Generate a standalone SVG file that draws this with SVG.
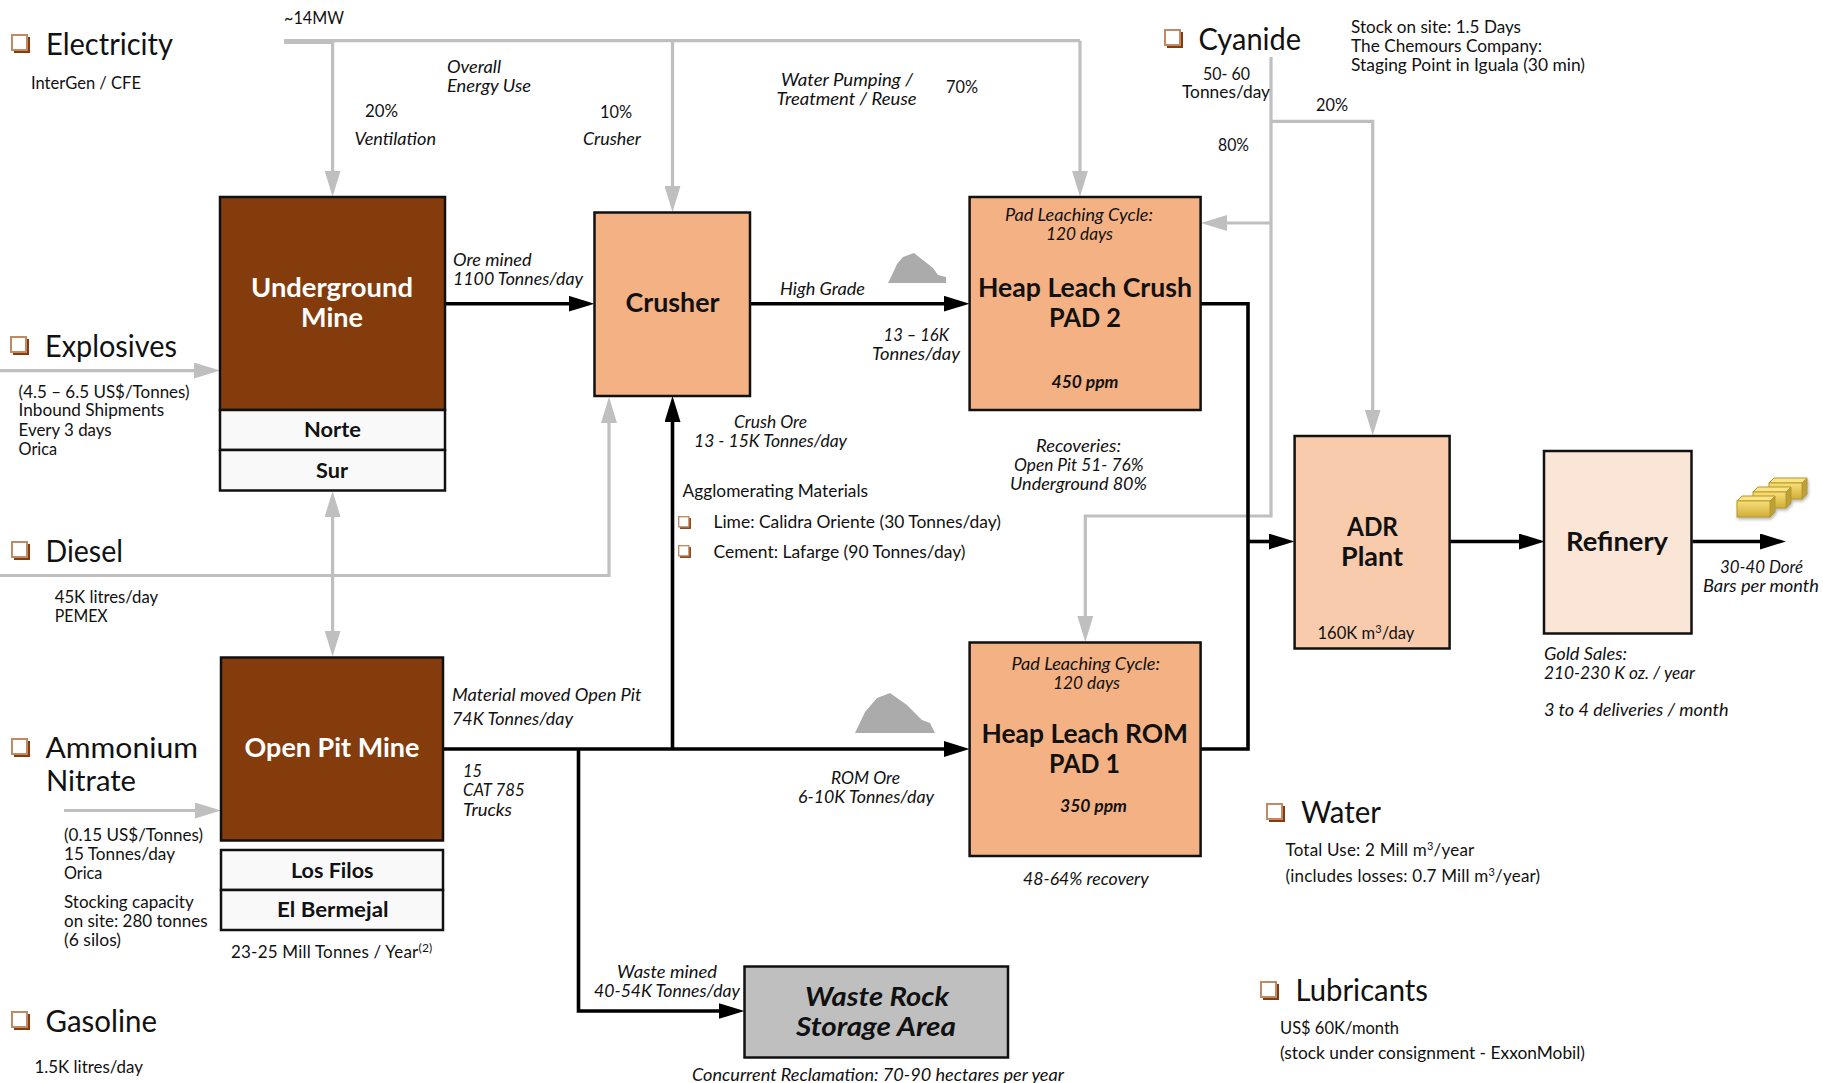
<svg xmlns="http://www.w3.org/2000/svg" width="1823" height="1083" viewBox="0 0 1823 1083">
<style>
text{font-family:"Lato","Liberation Sans",sans-serif;fill:#111;transform:translateY(.8px)}
.s{font-size:16.5px}
.i{font-size:16.5px;font-style:italic}
.t{font-size:30px}
.b{font-size:27px;font-weight:700}
.w{fill:#fff}
.sb{font-size:21.5px;font-weight:700}
.bi{font-size:16.5px;font-weight:700;font-style:italic}
.wr{font-size:26.5px;font-weight:700;font-style:italic}
.box{stroke:#111;stroke-width:2.5}
.g{fill:none;stroke:#bfbfbf;stroke-width:3.2;marker-end:url(#ga)}
.gn{fill:none;stroke:#bfbfbf;stroke-width:3.2}
.k{fill:none;stroke:#000;stroke-width:3.6;marker-end:url(#ka)}
.kn{fill:none;stroke:#000;stroke-width:3.6}
</style>
<defs>
<marker id="ga" markerUnits="userSpaceOnUse" markerWidth="26" markerHeight="16" viewBox="0 0 26 16" refX="11" refY="8" orient="auto"><path d="M0 0L26 8L0 16Z" fill="#bfbfbf"/></marker>
<marker id="ka" markerUnits="userSpaceOnUse" markerWidth="26" markerHeight="16" viewBox="0 0 26 16" refX="11" refY="8" orient="auto"><path d="M0 0L26 8L0 16Z" fill="#000"/></marker>
<g id="bul"><rect x="3" y="3" width="16" height="16" fill="#843c0c"/><rect x="1" y="1" width="15" height="15" fill="#fff" stroke="#c08a64" stroke-width="2"/></g>
<linearGradient id="gold" x1="0" y1="0" x2="0" y2="1"><stop offset="0" stop-color="#f9df7b"/><stop offset="1" stop-color="#cfae37"/></linearGradient>
<g id="bar"><path d="M0 5L5 0H38L33 5Z" fill="#fbe388" stroke="#b89a24"/><path d="M33 5L38 0V16L33 21Z" fill="#bda03a" stroke="#b89a24"/><rect y="5" width="33" height="16" fill="url(#gold)" stroke="#b89a24"/></g>
<filter id="shadow" x="-10%" y="-10%" width="130%" height="130%"><feDropShadow dx="1" dy="2" stdDeviation="1.5" flood-color="#888" flood-opacity=".6"/></filter>
<filter id="soft"><feGaussianBlur stdDeviation=".5"/></filter>
</defs>

<g id="connectors">
<path class="gn" d="M284 40.7H1080"/>
<path class="gn" style="stroke-width:5" d="M284 41.5H333"/>
<path class="g" d="M1080 40.7V181.7"/>
<path class="g" d="M332.6 41V181.7"/>
<path class="g" d="M672.5 41V197"/>
<path class="g" d="M0 370.6H205"/>
<path class="g" d="M0 575.5H609V412"/>
<path class="g" d="M332.6 575V506"/>
<path class="g" d="M332.6 575V641.6"/>
<path class="g" d="M64 810.5H206"/>
<path class="g" d="M1271 57V516H1085.3V627"/>
<path class="g" d="M1271 121.4H1372.7V420.5"/>
<path class="g" d="M1271 223H1216"/>
<path class="k" d="M445 303.7H579.5"/>
<path class="k" d="M750 303.7H954.6"/>
<path class="k" d="M672.5 749V411"/>
<path class="k" d="M443 749H954.6"/>
<path class="k" d="M578.5 749V1011H729.5"/>
<path class="kn" d="M1201 303.7H1248V749H1201"/>
<path class="k" d="M1248 541.5H1279.6"/>
<path class="k" d="M1450 541.5H1529.8"/>
<path class="k" d="M1692.5 541.5H1771"/>
</g>

<g id="electricity"><use href="#bul" x="11" y="34"/>
<text class="t" x="46" y="54.5" textLength="127" lengthAdjust="spacingAndGlyphs">Electricity</text>
<text class="s" x="31" y="88" textLength="110" lengthAdjust="spacingAndGlyphs">InterGen / CFE</text>
<text class="s" x="284" y="23" textLength="60" lengthAdjust="spacingAndGlyphs">~14MW</text>
<text class="i" x="447" y="72.5" textLength="54" lengthAdjust="spacingAndGlyphs">Overall</text>
<text class="i" x="447" y="91.5" textLength="84" lengthAdjust="spacingAndGlyphs">Energy Use</text>
<text class="s" x="365" y="116" textLength="33" lengthAdjust="spacingAndGlyphs">20%</text>
<text class="i" x="354.5" y="144.5" textLength="81.5" lengthAdjust="spacingAndGlyphs">Ventilation</text>
<text class="s" x="600" y="117" textLength="32" lengthAdjust="spacingAndGlyphs">10%</text>
<text class="i" x="583" y="144.5" textLength="58" lengthAdjust="spacingAndGlyphs">Crusher</text>
<text class="i" x="781" y="85" textLength="132" lengthAdjust="spacingAndGlyphs">Water Pumping /</text>
<text class="i" x="776.6" y="104" textLength="140" lengthAdjust="spacingAndGlyphs">Treatment / Reuse</text>
<text class="s" x="946" y="92" textLength="32" lengthAdjust="spacingAndGlyphs">70%</text>
</g>

<g id="explosives"><use href="#bul" x="10" y="336"/>
<text class="t" x="45" y="356" textLength="132" lengthAdjust="spacingAndGlyphs">Explosives</text>
<text class="s" x="18.6" y="397.5" textLength="171" lengthAdjust="spacingAndGlyphs">(4.5 – 6.5 US$/Tonnes)</text>
<text class="s" x="18.6" y="415.5" textLength="145.5" lengthAdjust="spacingAndGlyphs">Inbound Shipments</text>
<text class="s" x="18.6" y="435.5" textLength="93" lengthAdjust="spacingAndGlyphs">Every 3 days</text>
<text class="s" x="18.6" y="454.5" textLength="38.5" lengthAdjust="spacingAndGlyphs">Orica</text>
</g>

<g id="diesel"><use href="#bul" x="11" y="541"/>
<text class="t" x="45.5" y="561" textLength="77.5" lengthAdjust="spacingAndGlyphs">Diesel</text>
<text class="s" x="54.7" y="602" textLength="103.5" lengthAdjust="spacingAndGlyphs">45K litres/day</text>
<text class="s" x="54.7" y="621" textLength="53" lengthAdjust="spacingAndGlyphs">PEMEX</text>
</g>

<g id="ammonium-nitrate"><use href="#bul" x="11" y="738"/>
<text class="t" x="45.5" y="757.7" textLength="152.5" lengthAdjust="spacingAndGlyphs" style="font-size:28px">Ammonium</text>
<text class="t" x="46" y="790" textLength="90" lengthAdjust="spacingAndGlyphs" style="font-size:28px">Nitrate</text>
<text class="s" x="64" y="840.5" textLength="139" lengthAdjust="spacingAndGlyphs">(0.15 US$/Tonnes)</text>
<text class="s" x="64" y="859.5" textLength="111" lengthAdjust="spacingAndGlyphs">15 Tonnes/day</text>
<text class="s" x="64" y="878.5" textLength="38.4" lengthAdjust="spacingAndGlyphs">Orica</text>
<text class="s" x="64" y="907.5" textLength="129.7" lengthAdjust="spacingAndGlyphs">Stocking capacity</text>
<text class="s" x="64" y="926.5" textLength="143.6" lengthAdjust="spacingAndGlyphs">on site: 280 tonnes</text>
<text class="s" x="64" y="945" textLength="57" lengthAdjust="spacingAndGlyphs">(6 silos)</text>
</g>

<g id="gasoline"><use href="#bul" x="11" y="1011"/>
<text class="t" x="45.5" y="1031" textLength="111.5" lengthAdjust="spacingAndGlyphs">Gasoline</text>
<text class="s" x="34.5" y="1072" textLength="108.5" lengthAdjust="spacingAndGlyphs">1.5K litres/day</text>
</g>

<g id="underground-mine">
<rect class="box" x="220" y="197" width="225" height="213" fill="#843c0c"/>
<rect class="box" x="220" y="410" width="225" height="40" fill="#f9f9f9"/>
<rect class="box" x="220" y="450" width="225" height="40.5" fill="#f9f9f9"/>
<text class="b w" x="251" y="296.6" textLength="162" lengthAdjust="spacingAndGlyphs">Underground</text>
<text class="b w" x="301" y="326.6" textLength="62" lengthAdjust="spacingAndGlyphs">Mine</text>
<text class="sb" x="304" y="436" textLength="57" lengthAdjust="spacingAndGlyphs">Norte</text>
<text class="sb" x="316" y="477" textLength="32" lengthAdjust="spacingAndGlyphs">Sur</text>
<text class="i" x="453" y="265" textLength="78.6" lengthAdjust="spacingAndGlyphs">Ore mined</text>
<text class="i" x="453" y="284" textLength="130" lengthAdjust="spacingAndGlyphs">1100 Tonnes/day</text>
</g>

<g id="crusher">
<rect class="box" x="594.5" y="212.5" width="155.5" height="183.5" fill="#f4b183"/>
<text class="b" x="625.5" y="311" textLength="94" lengthAdjust="spacingAndGlyphs">Crusher</text>
<text class="i" x="780" y="294" textLength="85" lengthAdjust="spacingAndGlyphs">High Grade</text>
<text class="i" x="883.6" y="340" textLength="65.4" lengthAdjust="spacingAndGlyphs">13 – 16K</text>
<text class="i" x="872" y="359" textLength="88" lengthAdjust="spacingAndGlyphs">Tonnes/day</text>
<text class="i" x="734" y="427" textLength="73" lengthAdjust="spacingAndGlyphs">Crush Ore</text>
<text class="i" x="694" y="446" textLength="153" lengthAdjust="spacingAndGlyphs">13 - 15K Tonnes/day</text>
<text class="s" x="682.6" y="496" textLength="185.4" lengthAdjust="spacingAndGlyphs">Agglomerating Materials</text>
<use href="#bul" transform="translate(678 516) scale(.68)"/>
<text class="s" x="713.5" y="527" textLength="287.5" lengthAdjust="spacingAndGlyphs">Lime: Calidra Oriente (30 Tonnes/day)</text>
<use href="#bul" transform="translate(678 545) scale(.68)"/>
<text class="s" x="713.5" y="557" textLength="252" lengthAdjust="spacingAndGlyphs">Cement: Lafarge (90 Tonnes/day)</text>
</g>

<g id="heap-leach-crush-pad-2">
<rect class="box" x="969.6" y="197" width="231" height="213" fill="#f4b183"/>
<text class="i" x="1005" y="220" textLength="148" lengthAdjust="spacingAndGlyphs">Pad Leaching Cycle:</text>
<text class="i" x="1046" y="239" textLength="67" lengthAdjust="spacingAndGlyphs">120 days</text>
<text class="b" x="978" y="296" textLength="214" lengthAdjust="spacingAndGlyphs">Heap Leach Crush</text>
<text class="b" x="1049" y="326" textLength="72" lengthAdjust="spacingAndGlyphs">PAD 2</text>
<text class="bi" x="1051.5" y="387" textLength="67" lengthAdjust="spacingAndGlyphs">450 ppm</text>
<text class="i" x="1036" y="451" textLength="85" lengthAdjust="spacingAndGlyphs">Recoveries:</text>
<text class="i" x="1014" y="470" textLength="129.5" lengthAdjust="spacingAndGlyphs">Open Pit 51- 76%</text>
<text class="i" x="1010" y="489" textLength="137" lengthAdjust="spacingAndGlyphs">Underground 80%</text>
</g>

<g id="cyanide"><use href="#bul" x="1164" y="29"/>
<text class="t" x="1198.5" y="49" textLength="102.5" lengthAdjust="spacingAndGlyphs">Cyanide</text>
<text class="s" x="1351" y="32" textLength="170" lengthAdjust="spacingAndGlyphs">Stock on site: 1.5 Days</text>
<text class="s" x="1351" y="51" textLength="191" lengthAdjust="spacingAndGlyphs">The Chemours Company:</text>
<text class="s" x="1351" y="70" textLength="234" lengthAdjust="spacingAndGlyphs">Staging Point in Iguala (30 min)</text>
<text class="s" x="1203" y="79" textLength="47" lengthAdjust="spacingAndGlyphs">50- 60</text>
<text class="s" x="1182" y="97" textLength="88" lengthAdjust="spacingAndGlyphs">Tonnes/day</text>
<text class="s" x="1316" y="110" textLength="32" lengthAdjust="spacingAndGlyphs">20%</text>
<text class="s" x="1218" y="150" textLength="31" lengthAdjust="spacingAndGlyphs">80%</text>
</g>

<g id="adr-plant">
<rect class="box" x="1294.6" y="436" width="155" height="212.5" fill="#f8cbad"/>
<text class="b" x="1347" y="535" textLength="51" lengthAdjust="spacingAndGlyphs">ADR</text>
<text class="b" x="1341" y="565" textLength="62" lengthAdjust="spacingAndGlyphs">Plant</text>
<text class="s" x="1317.5" y="638" style="font-size:16.6px">160K m<tspan font-size="11" dy="-6">3</tspan><tspan dy="6">/day</tspan></text>
</g>

<g id="refinery">
<rect class="box" x="1544" y="451" width="147.5" height="182.5" fill="#fbe5d6"/>
<text class="b" x="1566" y="550" textLength="102" lengthAdjust="spacingAndGlyphs">Refinery</text>
<g filter="url(#shadow)"><use href="#bar" x="1769" y="478"/><use href="#bar" x="1753" y="487"/><use href="#bar" x="1737" y="496"/></g>
<text class="i" x="1720" y="572" textLength="83" lengthAdjust="spacingAndGlyphs">30-40 Doré</text>
<text class="i" x="1703" y="591" textLength="116" lengthAdjust="spacingAndGlyphs">Bars per month</text>
<text class="i" x="1544" y="659" textLength="83" lengthAdjust="spacingAndGlyphs">Gold Sales:</text>
<text class="i" x="1544" y="678" textLength="151" lengthAdjust="spacingAndGlyphs">210-230 K oz. / year</text>
<text class="i" x="1544" y="715.5" textLength="184.5" lengthAdjust="spacingAndGlyphs">3 to 4 deliveries / month</text>
</g>

<g id="open-pit-mine">
<rect class="box" x="221" y="657.5" width="222" height="183" fill="#843c0c"/>
<text class="b w" x="244.5" y="756" textLength="175" lengthAdjust="spacingAndGlyphs">Open Pit Mine</text>
<rect class="box" x="221" y="850" width="222" height="40" fill="#f9f9f9"/>
<rect class="box" x="221" y="890" width="222" height="40" fill="#f9f9f9"/>
<text class="sb" x="291" y="877" textLength="82.5" lengthAdjust="spacingAndGlyphs">Los Filos</text>
<text class="sb" x="277" y="916" textLength="111.5" lengthAdjust="spacingAndGlyphs">El Bermejal</text>
<text class="s" x="231" y="957" style="font-size:17px;letter-spacing:.2px">23-25 Mill Tonnes / Year<tspan font-size="12" dy="-6">(2)</tspan></text>
<text class="i" x="452" y="700.7" textLength="189.5" lengthAdjust="spacingAndGlyphs">Material moved Open Pit</text>
<text class="i" x="452" y="724" textLength="121" lengthAdjust="spacingAndGlyphs">74K Tonnes/day</text>
<text class="i" x="463" y="776" textLength="19" lengthAdjust="spacingAndGlyphs">15</text>
<text class="i" x="463" y="795" textLength="61.6" lengthAdjust="spacingAndGlyphs">CAT 785</text>
<text class="i" x="463" y="815" textLength="49" lengthAdjust="spacingAndGlyphs">Trucks</text>
</g>

<g id="heap-leach-rom-pad-1">
<rect class="box" x="969.6" y="642.5" width="231" height="213.5" fill="#f4b183"/>
<text class="i" x="1011.5" y="669" textLength="148.5" lengthAdjust="spacingAndGlyphs">Pad Leaching Cycle:</text>
<text class="i" x="1053" y="688" textLength="67" lengthAdjust="spacingAndGlyphs">120 days</text>
<text class="b" x="981.5" y="742" textLength="206.5" lengthAdjust="spacingAndGlyphs">Heap Leach ROM</text>
<text class="b" x="1049" y="772" textLength="71" lengthAdjust="spacingAndGlyphs">PAD 1</text>
<text class="bi" x="1060" y="811" textLength="67" lengthAdjust="spacingAndGlyphs">350 ppm</text>
<text class="i" x="831" y="783.5" textLength="69" lengthAdjust="spacingAndGlyphs">ROM Ore</text>
<text class="i" x="798" y="802.5" textLength="136" lengthAdjust="spacingAndGlyphs">6-10K Tonnes/day</text>
<text class="i" x="1023" y="884" textLength="125.6" lengthAdjust="spacingAndGlyphs">48-64% recovery</text>
</g>

<g id="waste-rock-storage-area">
<rect class="box" x="744.5" y="966.5" width="263.5" height="91" fill="#bfbfbf"/>
<text class="wr" x="805" y="1005" textLength="144" lengthAdjust="spacingAndGlyphs">Waste Rock</text>
<text class="wr" x="796" y="1035" textLength="160" lengthAdjust="spacingAndGlyphs">Storage Area</text>
<text class="i" x="617" y="977" textLength="100" lengthAdjust="spacingAndGlyphs">Waste mined</text>
<text class="i" x="594" y="996" textLength="146" lengthAdjust="spacingAndGlyphs">40-54K Tonnes/day</text>
<text class="i" x="692" y="1080" textLength="372" lengthAdjust="spacingAndGlyphs">Concurrent Reclamation: 70-90 hectares per year</text>
</g>

<g id="water"><use href="#bul" x="1266" y="803"/>
<text class="t" x="1301" y="822" textLength="80" lengthAdjust="spacingAndGlyphs">Water</text>
<text class="s" x="1285.5" y="855" style="font-size:17px;letter-spacing:.2px">Total Use: 2 Mill m<tspan font-size="11" dy="-6">3</tspan><tspan dy="6">/year</tspan></text>
<text class="s" x="1285.5" y="881" style="font-size:17px;letter-spacing:.2px">(includes losses: 0.7 Mill m<tspan font-size="11" dy="-6">3</tspan><tspan dy="6">/year)</tspan></text>
</g>

<g id="lubricants"><use href="#bul" x="1260" y="981"/>
<text class="t" x="1295.5" y="1000" textLength="132.5" lengthAdjust="spacingAndGlyphs">Lubricants</text>
<text class="s" x="1280" y="1033" textLength="119" lengthAdjust="spacingAndGlyphs">US$ 60K/month</text>
<text class="s" x="1280" y="1058.5" textLength="305" lengthAdjust="spacingAndGlyphs">(stock under consignment - ExxonMobil)</text>
</g>

<g id="ore-piles" fill="#ababab" filter="url(#soft)">
<path d="M888 283L892 275L897 264L903 257L914 253L933 268L938 275L946 277V283Z"/>
<path d="M855 733L865 712L877 698L890 693L907 705L922 720L930 723L935 733Z"/>
</g>
</svg>
